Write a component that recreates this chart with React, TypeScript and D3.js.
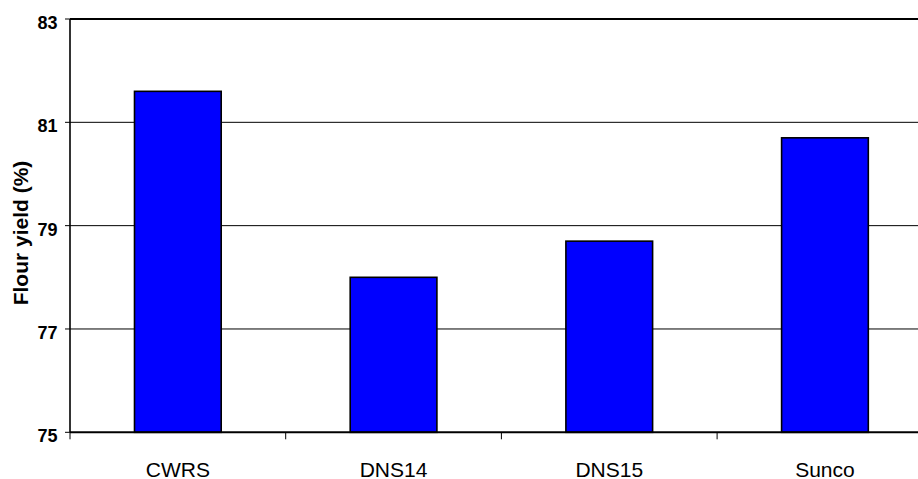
import React from "react";
import * as d3 from "d3";

const categories = ["CWRS", "DNS14", "DNS15", "Sunco"];
const values = [81.6, 78.0, 78.7, 80.7];
const yTicks = [75, 77, 79, 81, 83];
const yTitle = "Flour yield (%)";

const W = 918;
const H = 479;
const left = 70;
const right = 932.8;
const top = 19;
const bottom = 432.3;

export default function App() {
  const x = d3.scaleBand<string>().domain(categories).range([left, right]).padding(0);
  const y = d3.scaleLinear().domain([75, 83]).range([bottom, top]);
  const bw = x.bandwidth() * 0.402;
  const font = "'Liberation Sans', Arial, sans-serif";
  const boundaries = [...categories.map((c) => x(c) as number), right];

  return (
    <svg
      width={W}
      height={H}
      style={{ position: "absolute", left: 0, top: 0, background: "#fff" }}
      fontFamily={font}
    >
      {/* gridlines */}
      {yTicks.slice(1, -1).map((t) => (
        <line key={t} x1={left} x2={right} y1={y(t)} y2={y(t)} stroke="#000" strokeWidth={1} />
      ))}
      {/* top border */}
      <line x1={left} x2={right} y1={y(83)} y2={y(83)} stroke="#000" strokeWidth={2} />
      {/* bars */}
      {categories.map((c, i) => {
        const cx = (x(c) as number) + x.bandwidth() / 2;
        return (
          <rect
            key={c}
            x={cx - bw / 2}
            y={y(values[i])}
            width={bw}
            height={y(75) - y(values[i])}
            fill="#0000FF"
            stroke="#000"
            strokeWidth={1.6}
          />
        );
      })}
      {/* left axis */}
      <line x1={left} x2={left} y1={top} y2={bottom} stroke="#000" strokeWidth={1.6} />
      {yTicks.map((t) => (
        <g key={t}>
          <line x1={left - 5} x2={left} y1={y(t)} y2={y(t)} stroke="#000" strokeWidth={1} />
          <text
            x={57.5}
            y={y(t) + 10}
            textAnchor="end"
            fontSize={18}
            fontWeight="bold"
            fill="#000"
          >
            {t}
          </text>
        </g>
      ))}
      {/* bottom axis */}
      <line x1={left} x2={right} y1={bottom} y2={bottom} stroke="#000" strokeWidth={2} />
      {boundaries.map((b, i) => (
        <line key={i} x1={b} x2={b} y1={bottom} y2={bottom + 7} stroke="#000" strokeWidth={1} />
      ))}
      {categories.map((c) => (
        <text
          key={c}
          x={(x(c) as number) + x.bandwidth() / 2}
          y={476.5}
          textAnchor="middle"
          fontSize={21}
          fill="#000"
        >
          {c}
        </text>
      ))}
      {/* y title */}
      <text
        transform={`translate(28,233) rotate(-90)`}
        textAnchor="middle"
        fontSize={21}
        fontWeight="bold"
        fill="#000"
      >
        {yTitle}
      </text>
    </svg>
  );
}
